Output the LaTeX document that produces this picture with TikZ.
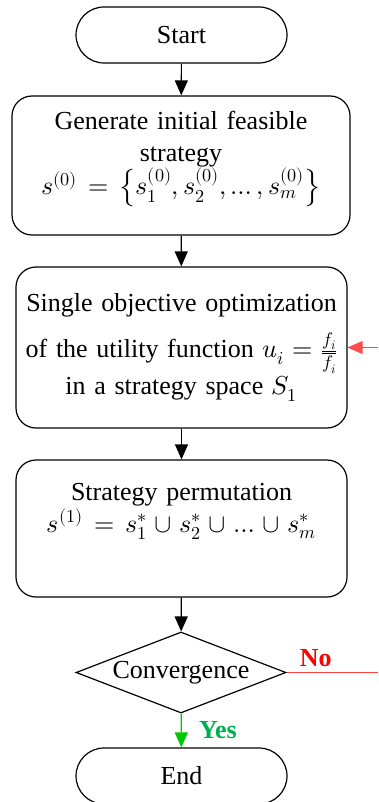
\documentclass[tikz,border=0pt]{standalone}
\usepackage{unicode-math}
\setmainfont{Liberation Serif}
\setmathfont{Latin Modern Math}
\usetikzlibrary{arrows.meta,shapes.geometric}
\definecolor{yesgreen}{RGB}{0,176,80}
\definecolor{arrowgreen}{RGB}{0,200,0}
\begin{document}
\begin{tikzpicture}[x=1pt,y=-1pt,line width=1.2pt,
  font=\fontsize{26}{32}\selectfont,
  >={Triangle[length=15pt,width=13pt]},
  terminal/.style={draw,rounded corners=28pt,minimum width=211pt,minimum height=56pt},
  stepbox/.style={draw,rounded corners=20pt,align=center,inner sep=2pt},
  decision/.style={draw,diamond,aspect=2.6,minimum width=210pt,minimum height=81pt,inner sep=0pt}]
\useasboundingbox (0,0) rectangle (378,802);
\node[terminal] (start) at (181.5,35) {Start};
\node[stepbox,minimum width=338pt,minimum height=139pt,text width=334pt] (init) at (181,165.5)
  {Generate initial feasible\\ strategy\\
   $s^{(0)}=\left\{s_1^{(0)},s_2^{(0)},\ldots,s_m^{(0)}\right\}$\\[-20pt]\strut};
\node[stepbox,minimum width=331pt,minimum height=161pt,text width=327pt] (opt) at (181.5,347.5)
  {Single objective optimization\\[14pt] of the utility function $u_i=\frac{f_i}{\overline{f_i}}$\\[2pt] in a strategy space $S_1$};
\node[stepbox,minimum width=331pt,minimum height=137pt,text width=327pt] (perm) at (181.5,528.5)
  {Strategy permutation\\ $s^{(1)}=s_1^{*}\cup s_2^{*}\cup\ldots\cup s_m^{*}$\\ \strut};
\node[decision] (conv) at (181,672.5) {Convergence};
\node[terminal] (end) at (181.5,776) {End};
\coordinate (noend) at (378,672.5);
\coordinate (back) at (378,347.5);
% flow
\draw[->] (start) -- (init);
\draw[->] (init) -- (opt);
\draw[->] (opt) -- (perm);
\draw[->] (perm) -- (conv);
\draw[->,draw=arrowgreen,fill=arrowgreen] (conv) -- (end)
  node[midway,right=14pt,text=yesgreen,font=\fontsize{26}{32}\selectfont\bfseries] (yes) {Yes};
\draw[red!75,line width=0.8pt] (conv.east) -- (noend)
  node[pos=0.32,above=2pt,text=red,font=\fontsize{26}{32}\selectfont\bfseries] (no) {No};
\draw[->,red!70,line width=0.8pt] (back) -- (opt.east);
\end{tikzpicture}
\end{document}
